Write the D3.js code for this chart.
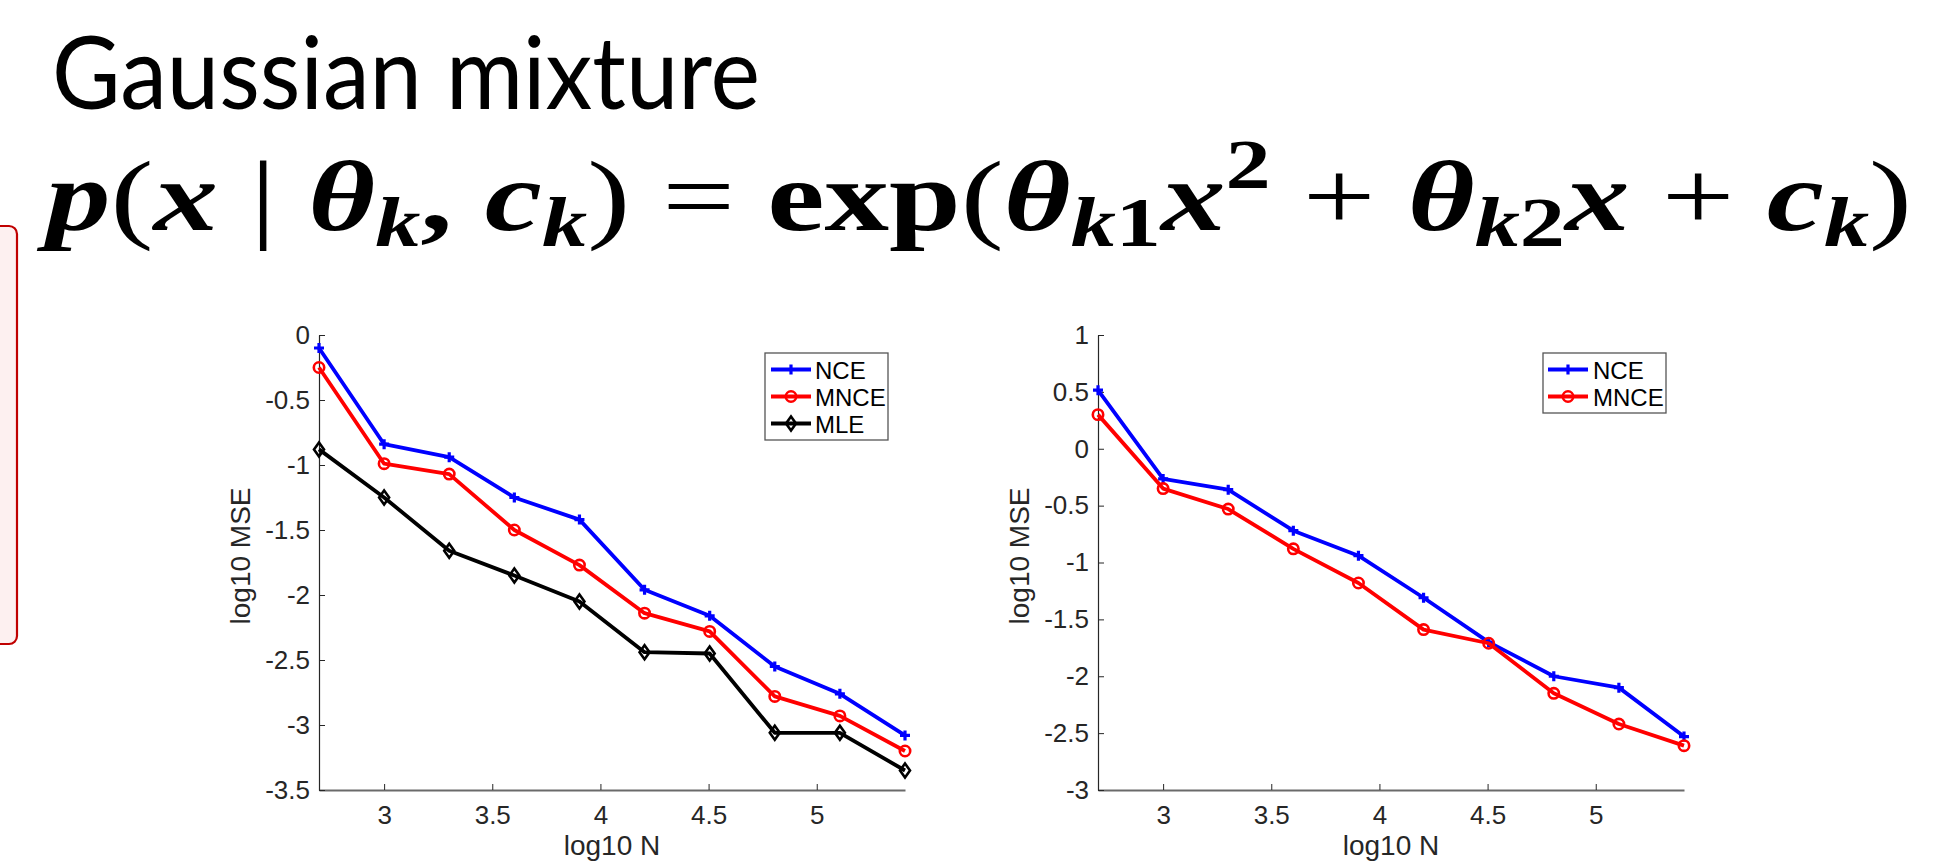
<!DOCTYPE html>
<html lang="en">
<head>
<meta charset="UTF-8">
<title>Gaussian mixture</title>
<script src="https://d3js.org/d3.v7.min.js"></script>
<style>
    html, body { margin: 0; padding: 0; background: #fff; }
    svg { display: block; }
    .tick text { font-family: "Liberation Sans", Arial, sans-serif; font-size: 26px; fill: #262626; }
</style>
</head>
<body>
<svg id="svg"></svg>
<script>
    // data (x = log10 N)
    const logN = [2.699, 3.000, 3.301, 3.602, 3.903, 4.204, 4.505, 4.806, 5.107, 5.408];
    const xTicks = [3, 3.5, 4, 4.5, 5];

    const leftNCE  = [-0.10, -0.84, -0.94, -1.25, -1.42, -1.96, -2.16, -2.55, -2.76, -3.08];
    const leftMNCE = [-0.25, -0.99, -1.07, -1.50, -1.77, -2.14, -2.28, -2.78, -2.93, -3.20];
    const leftMLE  = [-0.88, -1.25, -1.66, -1.85, -2.05, -2.44, -2.45, -3.06, -3.06, -3.35];
    const leftYTicks = [0, -0.5, -1, -1.5, -2, -2.5, -3, -3.5];

    const rightNCE  = [0.515, -0.265, -0.36, -0.72, -0.94, -1.31, -1.70, -2.00, -2.10, -2.53];
    const rightMNCE = [0.30, -0.35, -0.53, -0.88, -1.18, -1.59, -1.71, -2.15, -2.42, -2.61];
    const rightYTicks = [1, 0.5, 0, -0.5, -1, -1.5, -2, -2.5, -3];

    const width = 1959;
    const height = 864;
    const svg = d3.select('#svg').attr('width', width).attr('height', height);

    // red side box (cut by the left edge)
    svg.append('rect')
        .attr('x', -20).attr('y', 226)
        .attr('width', 37).attr('height', 418)
        .attr('rx', 8)
        .attr('fill', '#fdf0f0')
        .attr('stroke', '#c00000')
        .attr('stroke-width', 2.2);

    // title
    svg.append('text')
        .attr('x', 52).attr('y', 109)
        .attr('textLength', 708)
        .attr('lengthAdjust', 'spacingAndGlyphs')
        .style('font-family', 'Lato, "Open Sans", sans-serif')
        .style('font-size', '100px')
        .text('Gaussian mixture');

    // formula
    const f = svg.append('text')
        .attr('x', 46).attr('y', 230)
        .attr('textLength', 1866)
        .attr('lengthAdjust', 'spacingAndGlyphs')
        .style('font-family', '"Liberation Serif", "DejaVu Serif", serif')
        .style('font-size', '100px');
    const it = {'font-style': 'italic', 'font-weight': 'bold'};
    const up = {'font-style': 'normal', 'font-weight': 'normal'};
    const bup = {'font-style': 'normal', 'font-weight': 'bold'};
    function piece(txt, st, size, shift) {
        const t = f.append('tspan').text(txt);
        Object.entries(st).forEach(([k, v]) => t.style(k, v));
        if (size) t.style('font-size', size + 'px');
        if (shift) t.attr('baseline-shift', shift);
        return t;
    }
    piece('p', it); piece('(', up); piece('x', it); piece(' | ', up);
    piece('θ', it); piece('k', it, 70, -16); piece(', ', bup);
    piece('c', it); piece('k', it, 70, -16); piece(')', up);
    piece(' = ', up); piece('exp', bup); piece('(', up);
    piece('θ', it); piece('k', it, 70, -16); piece('1', bup, 70, -16);
    piece('x', it); piece('2', bup, 70, 42);
    piece(' + ', up);
    piece('θ', it); piece('k', it, 70, -16); piece('2', bup, 70, -16);
    piece('x', it); piece(' + ', up);
    piece('c', it); piece('k', it, 70, -16); piece(')', up);

    const panels = [
        {
            x0: 319, x1: 905, yTicks: leftYTicks, yDomain: [-3.5, 0],
            series: [
                {name: 'NCE', values: leftNCE, color: '#0000ff', marker: 'plus'},
                {name: 'MNCE', values: leftMNCE, color: '#ff0000', marker: 'circle'},
                {name: 'MLE', values: leftMLE, color: '#000000', marker: 'diamond'}
            ],
            legend: {x: 765, y: 353, w: 123, lineX: 771, textX: 815}
        },
        {
            x0: 1098, x1: 1684, yTicks: rightYTicks, yDomain: [-3, 1],
            series: [
                {name: 'NCE', values: rightNCE, color: '#0000ff', marker: 'plus'},
                {name: 'MNCE', values: rightMNCE, color: '#ff0000', marker: 'circle'}
            ],
            legend: {x: 1543, y: 353, w: 123, lineX: 1548, textX: 1593}
        }
    ];

    const yTop = 335, yBottom = 790;

    function drawMarker(g, type, color, x, y) {
        if (type === 'plus') {
            g.append('path')
                .attr('d', `M${x - 5},${y}H${x + 5}M${x},${y - 5}V${y + 5}`)
                .attr('stroke', color).attr('stroke-width', 3.2).attr('fill', 'none');
        } else if (type === 'circle') {
            g.append('circle')
                .attr('cx', x).attr('cy', y).attr('r', 5.2)
                .attr('stroke', color).attr('stroke-width', 2.6).attr('fill', 'none');
        } else {
            g.append('path')
                .attr('d', `M${x},${y - 7}L${x + 5},${y}L${x},${y + 7}L${x - 5},${y}Z`)
                .attr('stroke', color).attr('stroke-width', 2.6).attr('fill', 'none');
        }
    }

    panels.forEach(p => {
        const xScale = d3.scaleLinear().domain(d3.extent(logN)).range([p.x0, p.x1]);
        const yScale = d3.scaleLinear().domain(p.yDomain).range([yBottom, yTop]);

        const xAxis = d3.axisBottom(xScale).tickValues(xTicks)
            .tickSizeInner(-6).tickSizeOuter(0).tickPadding(16).tickFormat(d => d);
        const yAxis = d3.axisLeft(yScale).tickValues(p.yTicks)
            .tickSizeInner(-6).tickSizeOuter(0).tickPadding(9).tickFormat(d => d);

        const gx = svg.append('g')
            .attr('transform', 'translate(0,' + yBottom + ')')
            .call(xAxis);
        gx.select('.domain').attr('stroke', '#6a6a6a').attr('stroke-width', 1.8);
        gx.selectAll('.tick line').attr('stroke', '#262626');

        const gy = svg.append('g')
            .attr('transform', 'translate(' + p.x0 + ',0)')
            .call(yAxis);
        gy.select('.domain').attr('stroke', '#262626').attr('stroke-width', 1.2);
        gy.selectAll('.tick line').attr('stroke', '#262626');

        // axis labels
        svg.append('text')
            .attr('x', (p.x0 + p.x1) / 2).attr('y', 855)
            .attr('text-anchor', 'middle')
            .style('font-family', '"Liberation Sans", Arial, sans-serif')
            .style('font-size', '28px').style('fill', '#262626')
            .text('log10 N');
        svg.append('text')
            .attr('transform', 'translate(' + (p.x0 - 69) + ',' + 556 + ') rotate(-90)')
            .attr('text-anchor', 'middle')
            .style('font-family', '"Liberation Sans", Arial, sans-serif')
            .style('font-size', '28px').style('fill', '#262626')
            .text('log10 MSE');

        const line = d3.line().x((d, i) => xScale(logN[i])).y(d => yScale(d));
        p.series.forEach(s => {
            svg.append('path')
                .datum(s.values)
                .attr('d', line)
                .attr('fill', 'none')
                .attr('stroke', s.color)
                .attr('stroke-width', 3.8)
                .attr('stroke-linejoin', 'round');
            const gm = svg.append('g');
            s.values.forEach((v, i) => drawMarker(gm, s.marker, s.color, xScale(logN[i]), yScale(v)));
        });

        // legend
        const L = p.legend;
        const rowH = 27;
        svg.append('rect')
            .attr('x', L.x).attr('y', L.y)
            .attr('width', L.w).attr('height', p.series.length * rowH + 6)
            .attr('fill', '#fff').attr('stroke', '#555').attr('stroke-width', 1.3);
        p.series.forEach((s, i) => {
            const cy = L.y + 16.5 + i * rowH;
            svg.append('line')
                .attr('x1', L.lineX).attr('x2', L.lineX + 40)
                .attr('y1', cy).attr('y2', cy)
                .attr('stroke', s.color).attr('stroke-width', 3.8);
            drawMarker(svg, s.marker, s.color, L.lineX + 20, cy);
            svg.append('text')
                .attr('x', L.textX).attr('y', cy + 9)
                .style('font-family', '"Liberation Sans", Arial, sans-serif')
                .style('font-size', '24px').style('fill', '#000')
                .text(s.name);
        });
    });
</script>
</body>
</html>
